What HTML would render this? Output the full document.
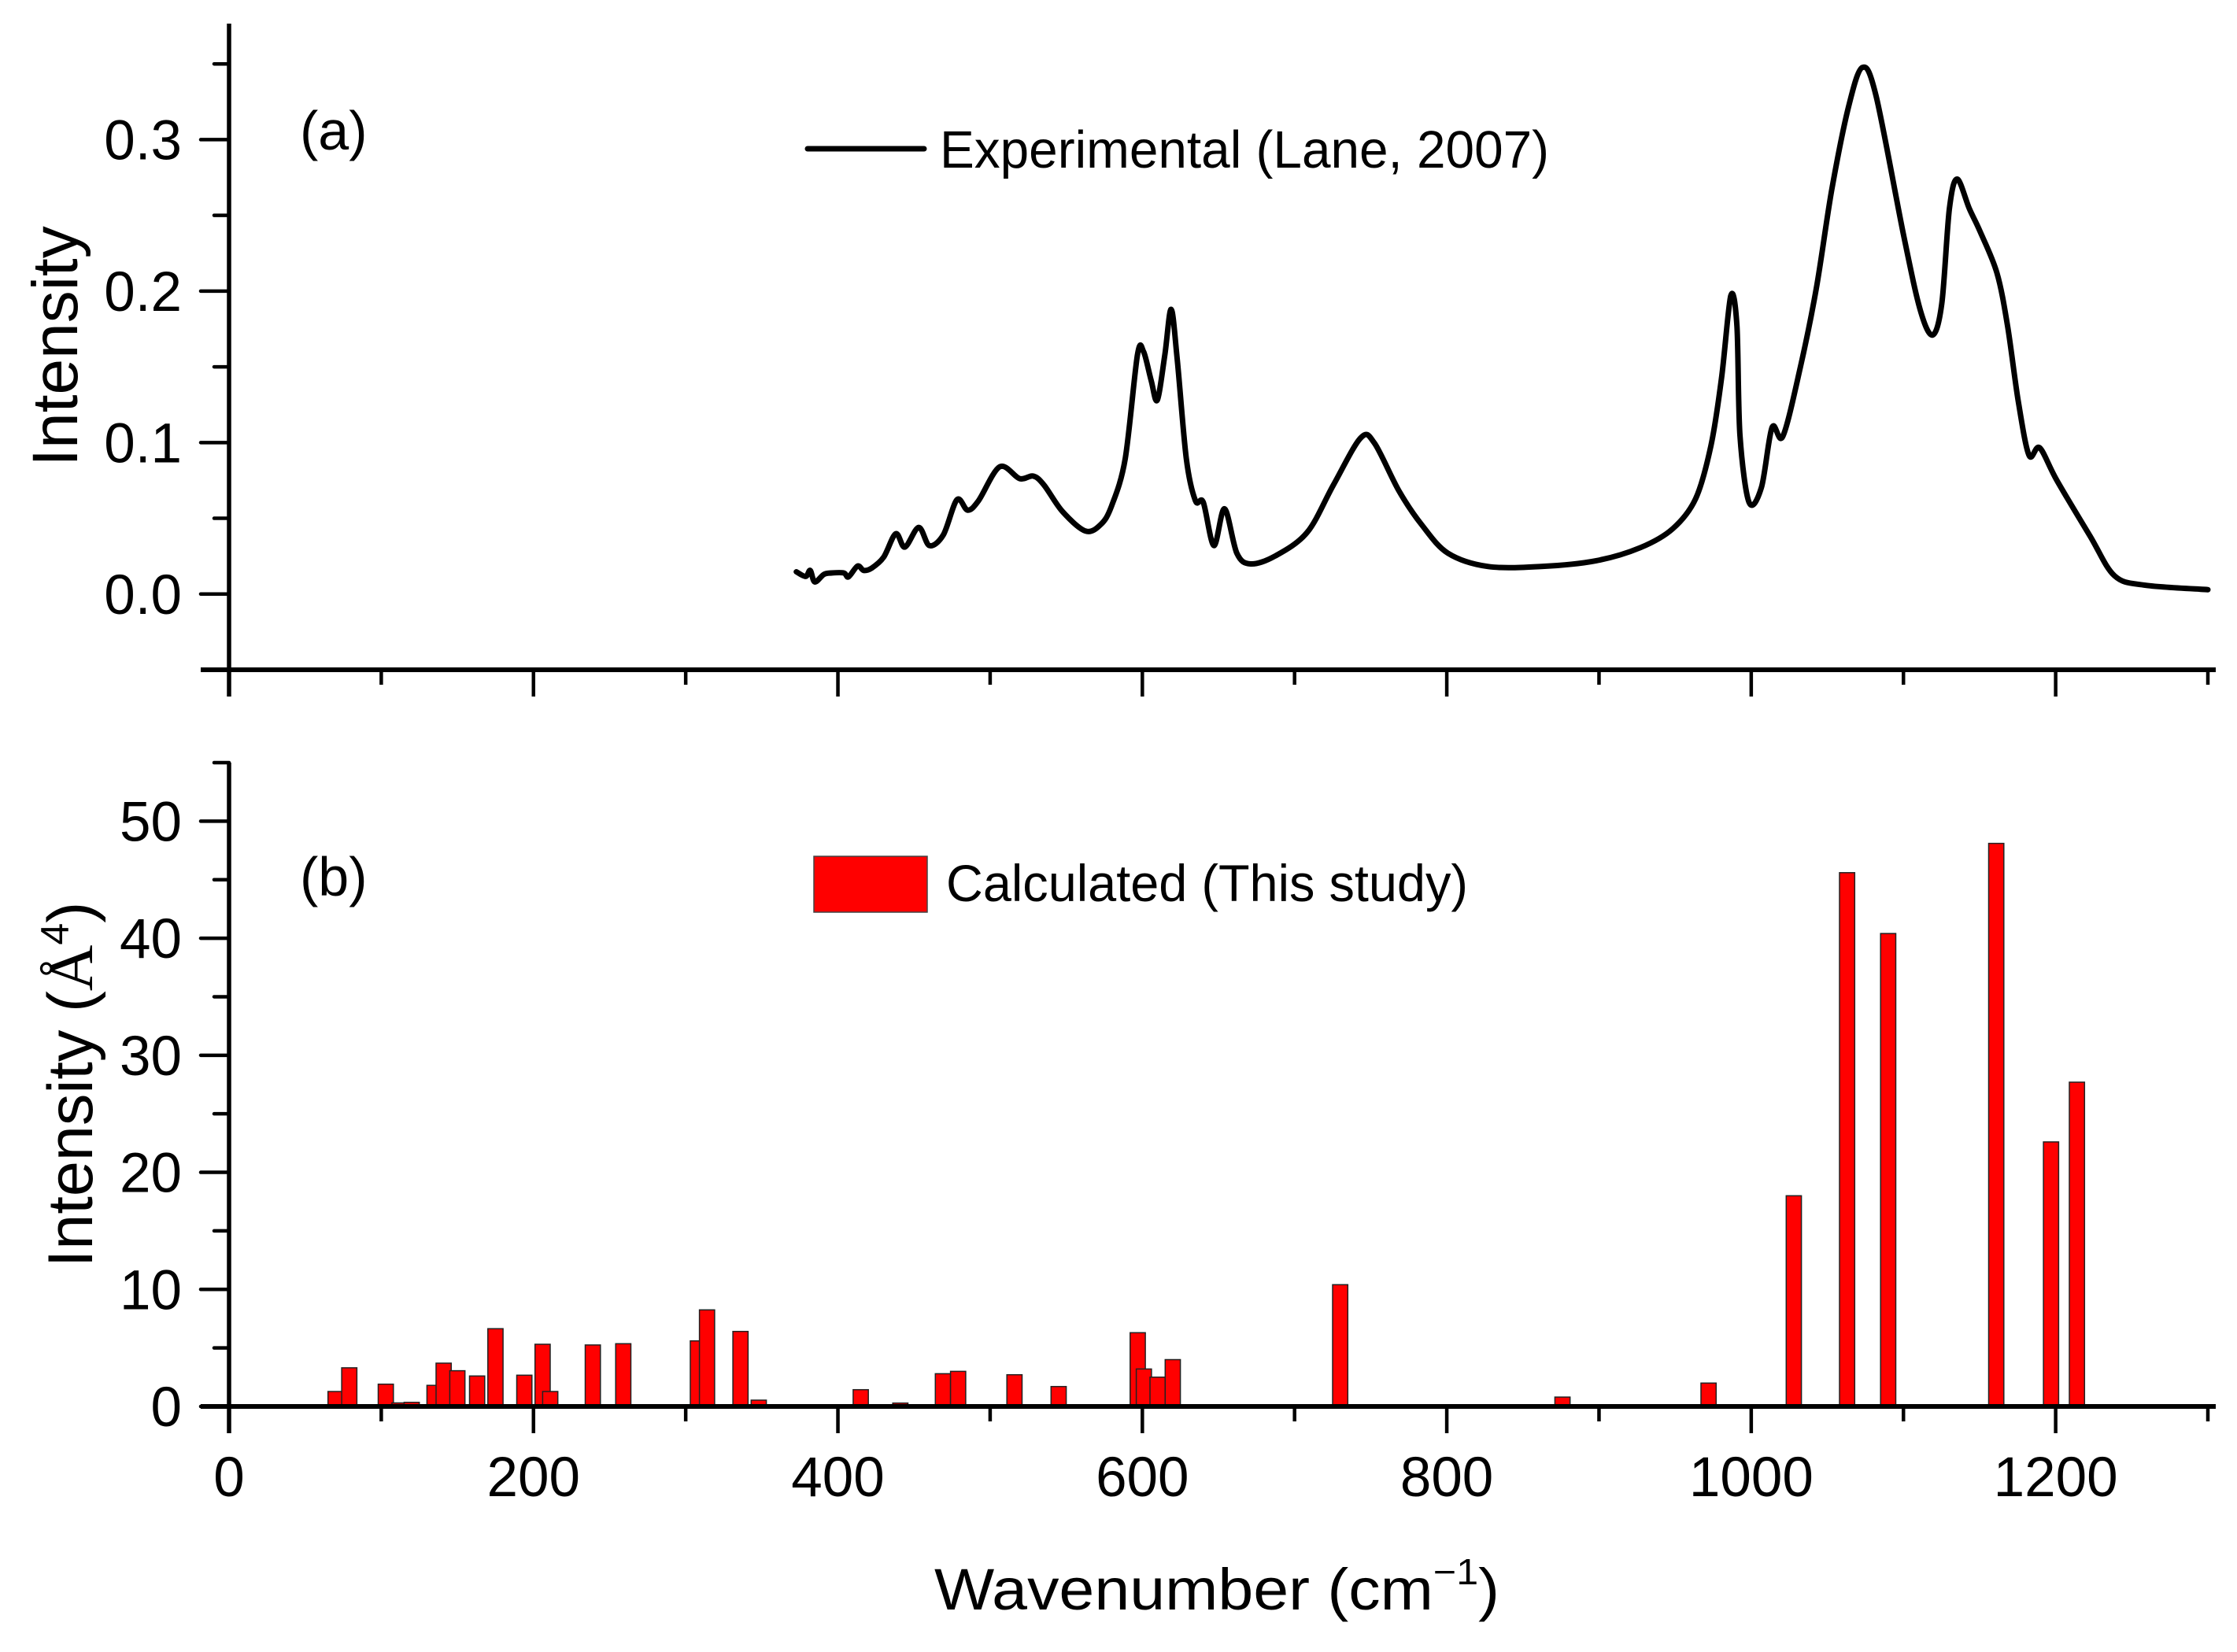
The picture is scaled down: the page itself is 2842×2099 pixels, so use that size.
<!DOCTYPE html>
<html><head><meta charset="utf-8"><style>
html,body{margin:0;padding:0;background:#fff;}
svg{display:block;font-family:"Liberation Sans",Arial,sans-serif;}
</style></head>
<body>
<svg id="chart" width="2842" height="2099" viewBox="0 0 2842 2099" xmlns="http://www.w3.org/2000/svg">
<rect x="0" y="0" width="2842" height="2099" fill="#fff"/>
<g id="panelA"></g>
<g id="panelB"></g>
<text x="381" y="190" font-size="70">(a)</text>
<text x="381" y="1138" font-size="70">(b)</text>
<g>
<line x1="1026" y1="189" x2="1174" y2="189" stroke="#000" stroke-width="7" stroke-linecap="round"/>
<text x="1194" y="213" font-size="67" textLength="774" lengthAdjust="spacingAndGlyphs">Experimental (Lane, 2007)</text>
</g>
<g>
<rect x="1034" y="1088" width="144" height="71" fill="#ff0000" stroke="#444" stroke-width="1.5"/>
<text x="1202" y="1145" font-size="66" textLength="663" lengthAdjust="spacingAndGlyphs">Calculated (This study)</text>
</g>
<text transform="translate(98,440) rotate(-90)" text-anchor="middle" font-size="82">Intensity</text>
<text transform="translate(117,1378) rotate(-90)" text-anchor="middle" font-size="81">Intensity (<tspan font-family="Liberation Serif, serif">Å</tspan><tspan dy="-30" font-size="50">4</tspan><tspan dy="30">)</tspan></text>
<text x="1187" y="2045" font-size="74" textLength="718" lengthAdjust="spacingAndGlyphs">Wavenumber (cm<tspan dy="-32" font-size="46">−1</tspan><tspan dy="32">)</tspan></text>
</svg>
<script>
// ---- data ----
const expWavenumber = [372.7,378.8,381.8,384.8,390.8,395.8,403.9,406.9,412.9,416.9,422,430,438,444,453.1,460.1,469.2,478.2,485.2,492.3,506.3,519.4,528.4,535.5,547.5,562.6,572.7,579.7,588.7,596.8,600.8,605.8,609.8,614.8,618.9,622.9,628.9,634.9,640,647,654,662.1,671.1,687.2,708.3,725.4,743.4,752.5,768.6,783.6,800.7,826.8,862,898.2,927.3,948.4,963.5,973.5,980.5,986.6,990.6,992.6,998.6,1006.7,1013.7,1020.7,1031.8,1042.8,1052.9,1063.9,1073,1082,1100.1,1111.1,1119.2,1125.2,1130.2,1135.3,1143.3,1150.3,1161.4,1168.4,1175.4,1182.5,1189.5,1200.6,1222.7,1238.7,1258.8,1300];
const expIntensity = [0.0147,0.0116,0.0156,0.008,0.013,0.0139,0.0139,0.0113,0.0185,0.0156,0.017,0.0243,0.0398,0.031,0.044,0.032,0.039,0.0623,0.0554,0.0615,0.084,0.0762,0.0779,0.0718,0.0545,0.0416,0.0459,0.058,0.0892,0.158,0.160,0.141,0.128,0.158,0.188,0.155,0.0892,0.0615,0.0606,0.032,0.0563,0.0269,0.0199,0.0251,0.0407,0.0718,0.103,0.0996,0.068,0.0456,0.027,0.0182,0.0182,0.022,0.0307,0.0431,0.063,0.0978,0.1425,0.197,0.177,0.105,0.0605,0.0704,0.110,0.104,0.1475,0.202,0.2668,0.3215,0.3476,0.329,0.237,0.1873,0.171,0.192,0.2544,0.274,0.2544,0.2395,0.212,0.177,0.1276,0.0916,0.0966,0.0754,0.0381,0.012,0.0058,0.0029];
const calcWavenumber = [70,79,103,112,120,135,141,150,163,175,194,206,211,239,259,308,314,336,348,415,441,469,479,516,545,597,601,610,620,730,876,972,1028,1063,1090,1161,1197,1214];
const calcIntensity = [1.28,3.3,1.9,0.3,0.35,1.8,3.7,3.05,2.6,6.64,2.67,5.31,1.28,5.25,5.36,5.6,8.25,6.41,0.54,1.43,0.29,2.8,3.0,2.71,1.7,6.3,3.2,2.5,4.0,10.4,0.8,2.0,18.0,45.6,40.4,48.1,22.6,27.7];
const xTickLabels = ["0","200","400","600","800","1000","1200"];
const yTickLabelsA = ["0.0","0.1","0.2","0.3"];
const yTickLabelsB = ["0","10","20","30","40","50"];

// ---- scales ----
const X0=291, X1=2805, XMIN=0, XMAX=1300, XLINE_END=2815;
const sx = v => X0 + (v-XMIN)/(XMAX-XMIN)*(X1-X0);
const A_TOP=30, A_BOT=851, A_MIN=-0.05, A_MAX=0.3766;
const syA = v => A_BOT - (v-A_MIN)/(A_MAX-A_MIN)*(A_BOT-A_TOP);
const B_TOP=969, B_BOT=1787, B_MIN=0, B_MAX=55;
const syB = v => B_BOT - (v-B_MIN)/(B_MAX-B_MIN)*(B_BOT-B_TOP);
const NS="http://www.w3.org/2000/svg";
function mk(tag, parent, attrs){const e=document.createElementNS(NS,tag);for(const k in attrs)e.setAttribute(k,attrs[k]);parent.appendChild(e);return e;}

const gA=document.getElementById('panelA');
const gB=document.getElementById('panelB');

// ---- panel A curve (Catmull-Rom smoothed) ----
const pts=expWavenumber.map((w,i)=>[sx(w),syA(expIntensity[i])]);
let d='M'+pts[0][0].toFixed(1)+','+pts[0][1].toFixed(1);
for(let i=0;i<pts.length-1;i++){
  const p0=pts[Math.max(0,i-1)],p1=pts[i],p2=pts[i+1],p3=pts[Math.min(pts.length-1,i+2)];
  const t=0.16;
  const c1=[p1[0]+(p2[0]-p0[0])*t,p1[1]+(p2[1]-p0[1])*t];
  const c2=[p2[0]-(p3[0]-p1[0])*t,p2[1]-(p3[1]-p1[1])*t];
  d+='C'+c1[0].toFixed(1)+','+c1[1].toFixed(1)+' '+c2[0].toFixed(1)+','+c2[1].toFixed(1)+' '+p2[0].toFixed(1)+','+p2[1].toFixed(1);
}
const curve=mk('path',gA,{d:d,fill:'none',stroke:'#000','stroke-width':7,'stroke-linejoin':'round','stroke-linecap':'round'});



// ---- panel B bars ----
const BW=10;
for(let i=0;i<calcWavenumber.length;i++){
  const x=sx(calcWavenumber[i]-BW/2), w=sx(calcWavenumber[i]+BW/2)-x;
  const y=syB(calcIntensity[i]);
  const r=mk('rect',gB,{x:x.toFixed(1),y:y.toFixed(1),width:w.toFixed(1),height:(B_BOT-y).toFixed(1),fill:'#ff0000',stroke:'#222','stroke-width':1.5});
  
  
}

// ---- axes ----
function axes(g, top, bot, yMin, yMax, sy, majorStep, minorStep, labels, withXLabels){
  const ya=mk('line',g,{x1:X0,y1:top,x2:X0,y2:bot+34,stroke:'#000','stroke-width':5.5});
  
  
  const xa=mk('line',g,{x1:X0-36,y1:bot,x2:XLINE_END,y2:bot,stroke:'#000','stroke-width':6});
  
  
  for(let v=0; v<=XMAX+0.01; v+=100){
    const major = v%200===0;
    const t=mk('line',g,{x1:sx(v),y1:bot,x2:sx(v),y2:bot+(major?34:19),stroke:'#000','stroke-width':4.5});
    
    
  }
  if(withXLabels){
    xTickLabels.forEach(s=>{
      const t=mk('text',g,{x:sx(+s),y:1901,'text-anchor':'middle','font-size':71});
      t.textContent=s;
      
      
    });
  }
  const n=Math.round((yMax-yMin)/minorStep);
  for(let i=0;i<=n;i++){
    const v=yMin+i*minorStep;
    const major=Math.abs(Math.round(v/majorStep)*majorStep-v)<1e-6;
    const y=sy(v);
    const t=mk('line',g,{x1:X0-(major?36:19),y1:y,x2:X0,y2:y,stroke:'#000','stroke-width':4.5,'stroke-linecap':'round'});
    
    
  }
  labels.forEach(s=>{
    const t=mk('text',g,{x:231,y:sy(+s)+25,'text-anchor':'end','font-size':71});
    t.textContent=s;
    
    
  });
}
axes(gA, A_TOP, A_BOT, -0.05, 0.35, syA, 0.1, 0.05, yTickLabelsA, false);
axes(gB, B_TOP, B_BOT, 0, 55, syB, 10, 5, yTickLabelsB, true);
</script>
</body></html>
